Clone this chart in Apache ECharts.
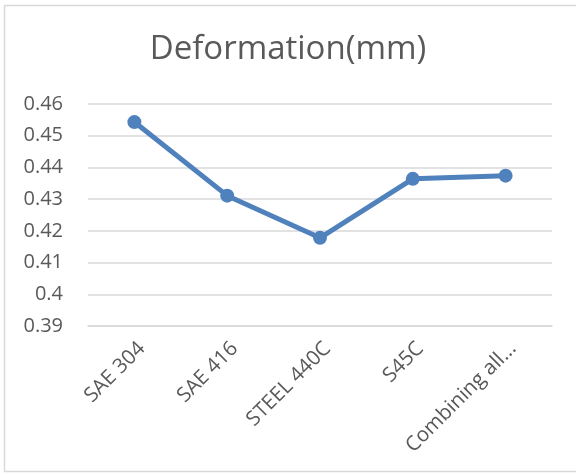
<!DOCTYPE html>
<html>
<head>
<meta charset="utf-8">
<script src="https://cdn.jsdelivr.net/npm/echarts@6/dist/echarts.min.js"></script>
<style>
  html, body { margin: 0; padding: 0; background: #fff; }
  #chart { width: 576px; height: 475px; }
</style>
</head>
<body>
<div id="chart"></div>
<script>
// Deformation per material
const categories = ['SAE 304', 'SAE 416', 'STEEL 440C', 'S45C', 'Combining all...'];
const deformation = [0.4543, 0.4311, 0.4178, 0.4364, 0.4374];
const yTicks = { min: 0.39, max: 0.46, step: 0.01 };

const chart = echarts.init(document.getElementById('chart'));
const textColor = '#595959';
const font = '"Open Sans", "Noto Sans", sans-serif';

chart.setOption({
  animation: false,
  backgroundColor: '#ffffff',
  graphic: [{
    type: 'rect',
    shape: { x: 4.5, y: 5.5, width: 600, height: 466 },
    style: { fill: 'none', stroke: '#d9d9d9', lineWidth: 1.5 },
    silent: true
  }],
  title: {
    text: 'Deformation(mm)',
    left: 'center',
    top: 28,
    textStyle: { fontFamily: font, fontSize: 33, fontWeight: 'normal', color: textColor }
  },
  grid: { left: 88, right: 24, top: 104, bottom: 149, containLabel: false },
  xAxis: {
    type: 'category',
    data: categories,
    boundaryGap: true,
    axisLine: { show: true, lineStyle: { color: '#d9d9d9', width: 1.5 } },
    axisTick: { show: false },
    axisLabel: {
      rotate: 45,
      interval: 0,
      margin: 12,
      verticalAlign: 'top',
      fontFamily: font,
      fontSize: 20.5,
      color: textColor
    }
  },
  yAxis: {
    type: 'value',
    min: yTicks.min,
    max: yTicks.max,
    interval: yTicks.step,
    axisLine: { show: false },
    axisTick: { show: false },
    splitLine: { lineStyle: { color: '#d9d9d9', width: 1.5 } },
    axisLabel: {
      margin: 25,
      fontFamily: font,
      fontSize: 20,
      color: textColor,
      formatter: v => String(Math.round(v * 100) / 100)
    }
  },
  series: [{
    type: 'line',
    data: deformation,
    symbol: 'circle',
    symbolSize: 14,
    lineStyle: { color: '#4f81bd', width: 5 },
    itemStyle: { color: '#4f81bd' }
  }]
});
</script>
</body>
</html>
